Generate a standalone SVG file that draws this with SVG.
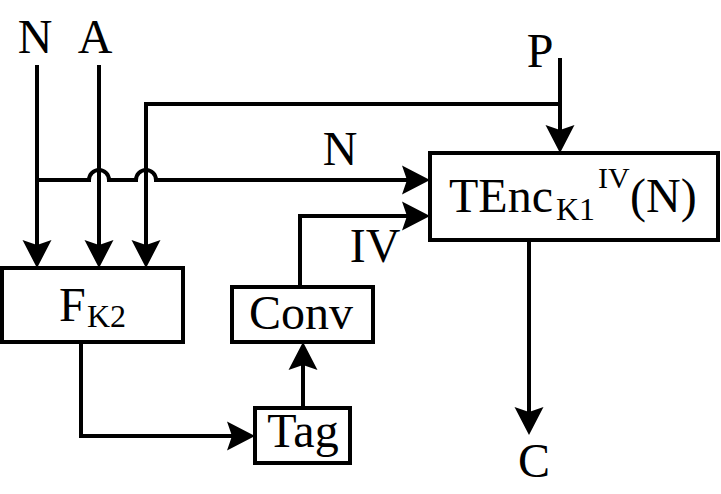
<svg xmlns="http://www.w3.org/2000/svg" width="721" height="494" viewBox="0 0 721 494">
<style>
.box{fill:#fff;stroke:#000;stroke-width:4}
.ln{fill:none;stroke:#000;stroke-width:4}
.t{font-family:"Liberation Serif","Times New Roman",serif;font-size:48px;fill:#000}
.s{font-size:32px}
.m{text-anchor:middle}
</style>
<defs>
<marker id="ah" markerUnits="userSpaceOnUse" markerWidth="32" markerHeight="32" viewBox="0 0 32 32" refX="18" refY="16" orient="auto">
<path d="M0,1.5 L28,16 L0,30.5 L5,16 Z" fill="#000"/>
</marker>
</defs>
<g id="connectors">
<path class="ln" d="M37,65 V258" marker-end="url(#ah)"/>
<path class="ln" d="M99,65 V258" marker-end="url(#ah)"/>
<path class="ln" d="M560,104 H146 V258" marker-end="url(#ah)"/>
<path class="ln" d="M560,58 V143" marker-end="url(#ah)"/>
<path class="ln" d="M37,180 H89 A10,10 0 0 1 109,180 H136 A10,10 0 0 1 156,180 H420" marker-end="url(#ah)"/>
<path class="ln" d="M300,287 V216 H420" marker-end="url(#ah)"/>
<path class="ln" d="M303,408 V352" marker-end="url(#ah)"/>
<path class="ln" d="M81,342 V436 H245" marker-end="url(#ah)"/>
<path class="ln" d="M529,240 V425" marker-end="url(#ah)"/>
</g>
<g id="labels">
<text class="t m" x="35" y="53">N</text>
<text class="t m" x="95" y="53">A</text>
<text class="t m" x="540" y="67">P</text>
<text class="t m" x="340" y="165">N</text>
<text class="t m" x="375" y="262">IV</text>
<text class="t m" x="534" y="477">C</text>
</g>
<g id="F">
<rect class="box" x="2" y="268" width="181" height="74"/>
<text class="t" x="59" y="321">F<tspan class="s" x="87" y="327">K2</tspan></text>
</g>
<g id="Conv">
<rect class="box" x="232" y="287" width="141" height="55"/>
<text class="t m" x="301" y="329">Conv</text>
</g>
<g id="Tag">
<rect class="box" x="255" y="408" width="95" height="55"/>
<text class="t m" x="303" y="447">Tag</text>
</g>
<g id="TEnc">
<rect class="box" x="430" y="153" width="288" height="87"/>
<text class="t" x="449" y="212">TEnc<tspan class="s" x="556" y="220">K1</tspan><tspan style="font-size:30px" x="598" y="188">IV</tspan><tspan x="630" y="212">(N)</tspan></text>
</g>
</svg>
